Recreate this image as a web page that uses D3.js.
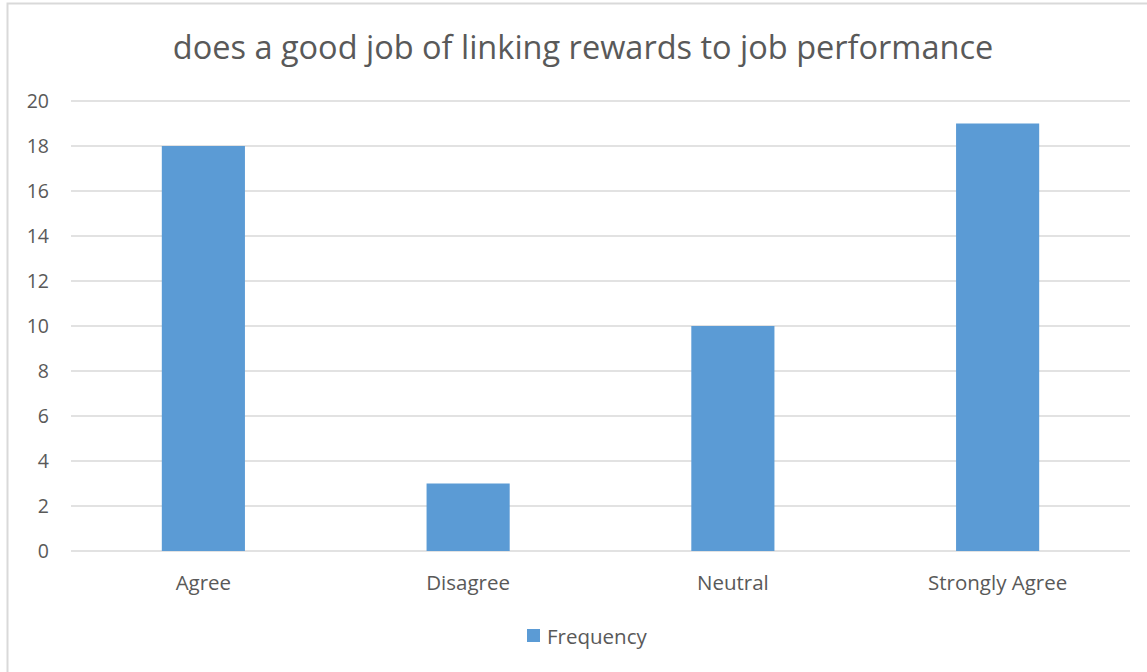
<!DOCTYPE html>
<html>
<head>
<meta charset="utf-8">
<script src="https://cdn.jsdelivr.net/npm/d3@7"></script>
<style>
  body { margin:0; background:#fff; }
  text { font-family:"Open Sans", sans-serif; fill:#595959; }
</style>
</head>
<body>
<svg id="graph"></svg>
<script>
var categories=["Agree","Disagree","Neutral","Strongly Agree"]
var frequency=[18,3,10,19]
var yTicks=[0,2,4,6,8,10,12,14,16,18,20]
var seriesName="Frequency"
var title="does a good job of linking rewards to job performance"

var screen={width:1147,height:672}
var margins={left:71,right:17,top:101,bottom:121}
var graph={
    width:screen.width-margins.left-margins.right,
    height:screen.height-margins.top-margins.bottom
}

var svg=d3.select("#graph")
    .attr("width",screen.width)
    .attr("height",screen.height)

// outer chart border
svg.append("rect")
    .attr("x",7.5).attr("y",3.5)
    .attr("width",screen.width+10).attr("height",screen.height+10)
    .attr("fill","none")
    .attr("stroke","#d9d9d9")
    .attr("stroke-width",2)

var target=svg.append("g")
    .attr("transform","translate("+margins.left+","+margins.top+")")

var xScale=d3.scaleBand()
    .domain(categories)
    .range([0,graph.width])
    .paddingInner(0.686)
    .paddingOuter(0.343)

var yScale=d3.scaleLinear()
    .domain([0,20])
    .range([graph.height,0])

// gridlines
target.append("g")
    .selectAll("line")
    .data(yTicks)
    .enter()
    .append("line")
    .attr("x1",0).attr("x2",graph.width)
    .attr("y1",function(d){return yScale(d)})
    .attr("y2",function(d){return yScale(d)})
    .attr("stroke","#d9d9d9")
    .attr("stroke-width",1.5)

// bars
target.append("g")
    .selectAll("rect")
    .data(frequency)
    .enter()
    .append("rect")
    .attr("x",function(d,i){return xScale(categories[i])})
    .attr("y",function(d){return yScale(d)})
    .attr("width",xScale.bandwidth())
    .attr("height",function(d){return graph.height-yScale(d)})
    .attr("fill","#5b9bd5")

// y axis
var yAxis=d3.axisLeft(yScale).tickValues(yTicks).tickSize(0).tickPadding(22)
var yg=target.append("g").call(yAxis)
yg.select(".domain").remove()
yg.selectAll("text").style("font-size","19.5px").style("fill","#595959")

// x axis
var xAxis=d3.axisBottom(xScale).tickSize(0).tickPadding(24)
var xg=target.append("g")
    .attr("transform","translate(0,"+graph.height+")")
    .call(xAxis)
xg.select(".domain").remove()
xg.selectAll("text").style("font-size","20.5px").style("fill","#595959")

// title
svg.append("text")
    .text(title)
    .attr("x",583)
    .attr("y",59)
    .attr("text-anchor","middle")
    .style("font-size","32.5px")

// legend
var legend=svg.append("g").attr("transform","translate(527,629)")
legend.append("rect")
    .attr("width",13).attr("height",13)
    .attr("fill","#5b9bd5")
legend.append("text")
    .text(seriesName)
    .attr("x",20).attr("y",14.5)
    .style("font-size","20.5px")
</script>
</body>
</html>
